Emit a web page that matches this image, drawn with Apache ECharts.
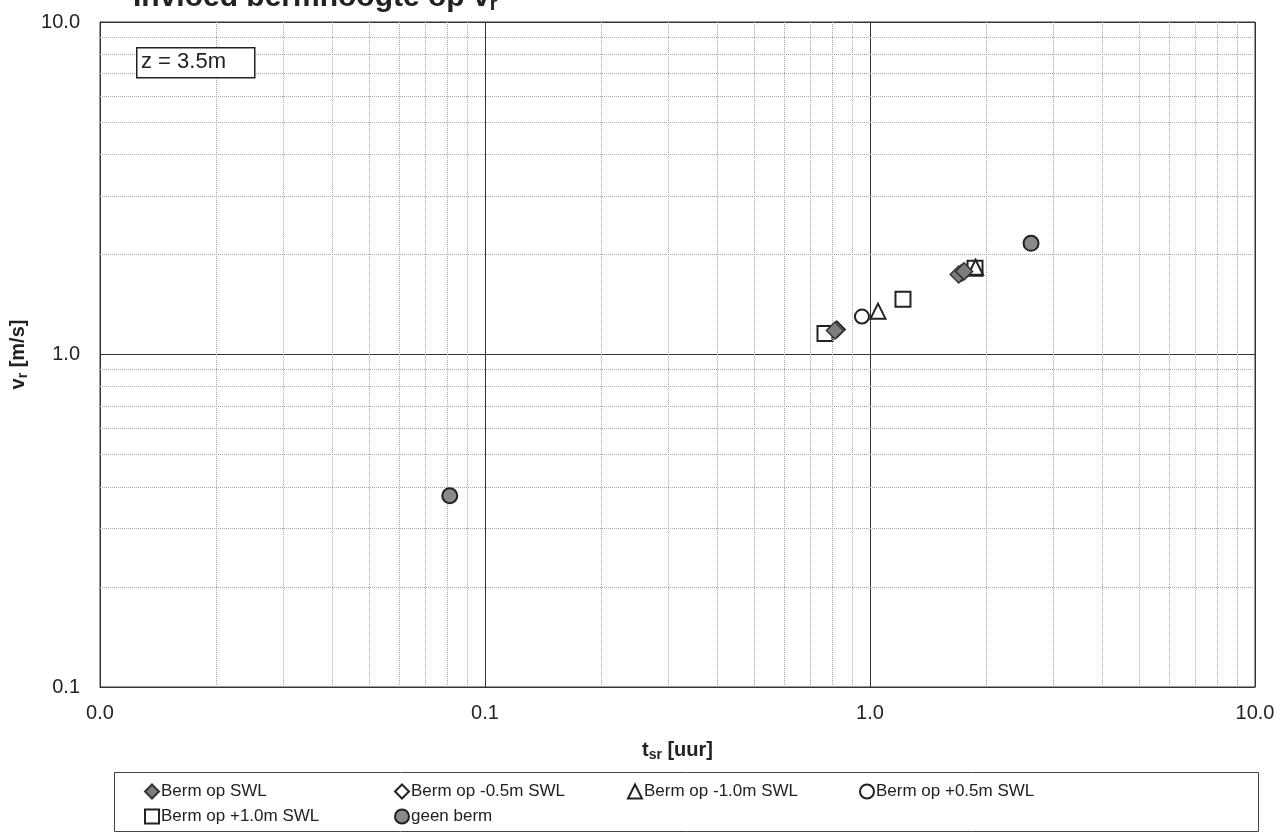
<!DOCTYPE html>
<html>
<head>
<meta charset="utf-8">
<script src="https://cdn.jsdelivr.net/npm/echarts@6/dist/echarts.min.js"></script>
<style>html,body{margin:0;padding:0;background:#fff;}#c{width:1282px;height:837px;}</style>
</head>
<body>
<div id="c"></div>
<script>
// ---- data ----
const seriesNames = ['Berm op SWL','Berm op -0.5m SWL','Berm op -1.0m SWL','Berm op +0.5m SWL','Berm op +1.0m SWL','geen berm'];
const bermSWL_t   = [0.811, 1.70, 1.755];
const bermSWL_v   = [1.181, 1.74, 1.778];
const bermM05_t   = [0.82, 1.73];
const bermM05_v   = [1.19, 1.76];
const bermM10_t   = [1.049, 1.88];
const bermM10_v   = [1.35, 1.83];
const bermP05_t   = [0.953];
const bermP05_v   = [1.30];
const bermP10_t   = [0.764, 1.218, 1.874];
const bermP10_v   = [1.157, 1.465, 1.816];
const geenBerm_t  = [0.081, 2.62];
const geenBerm_v  = [0.376, 2.16];
const xTicks = [0.01, 0.1, 1, 10];
const yTicks = [0.1, 1, 10];
const minorMult = [2,3,4,5,6,7,8,9];
const xDecades = [0.01, 0.1, 1];
const yDecades = [0.1, 1];

const pair = (a,b) => a.map((v,i)=>[v,b[i]]);
const minorX = [].concat(...xDecades.map(d => minorMult.map(m => +(d*m).toPrecision(3))));
const minorY = [].concat(...yDecades.map(d => minorMult.map(m => +(d*m).toPrecision(3))));

const FONT = '"Liberation Sans", Arial, sans-serif';
const chart = echarts.init(document.getElementById('c'));

const sc = (name, data, symbol, size, fill, border, bw, z) => ({
  name, type:'scatter', data, symbol, symbolSize:size, z,
  itemStyle:{color:fill, borderColor:border, borderWidth:bw, opacity:1}
});

// legend placement: [left, top] per series
const legendPos = [[144,783],[394,783],[627,783],[859,783],[144,808],[394,808]];
const legends = seriesNames.map((n,i)=>({
  data:[n], left:legendPos[i][0], top:legendPos[i][1], padding:0,
  itemWidth:14, itemHeight:14, selectedMode:false,
  textStyle:{fontSize:17, color:'#222', fontFamily:FONT, padding:[0,0,0,-3]}
}));

chart.setOption({
  animation:false,
  backgroundColor:'#fff',
  grid:{left:100, right:27, top:22, bottom:150, show:true, borderColor:'#333', borderWidth:1},
  xAxis:{
    type:'log', logBase:10, min:0.01, max:10,
    axisLine:{lineStyle:{color:'#333', width:1}},
    axisTick:{show:false},
    splitLine:{show:true, lineStyle:{color:'#333', width:1}},
    axisLabel:{margin:16, color:'#222', fontSize:20, fontFamily:FONT, formatter:v=>(+v).toFixed(1)},
    name:'{a|t}{s|sr}{a| [uur]}', nameLocation:'middle', nameGap:52,
    nameTextStyle:{rich:{
      a:{fontSize:20, fontWeight:'bold', color:'#222', fontFamily:FONT},
      s:{fontSize:14, fontWeight:'bold', color:'#222', fontFamily:FONT, padding:[9,0,0,0]}
    }}
  },
  yAxis:{
    type:'log', logBase:10, min:0.1, max:10,
    axisLine:{lineStyle:{color:'#333', width:1}},
    axisTick:{show:false},
    splitLine:{show:true, lineStyle:{color:'#333', width:1}},
    axisLabel:{margin:20, color:'#222', fontSize:20, fontFamily:FONT, formatter:v=>(+v).toFixed(1)},
    name:'{a|v}{s|r}{a| [m/s]}', nameLocation:'middle', nameGap:68,
    nameTextStyle:{rich:{
      a:{fontSize:20, fontWeight:'bold', color:'#222', fontFamily:FONT},
      s:{fontSize:14, fontWeight:'bold', color:'#222', fontFamily:FONT, padding:[9,0,0,0]}
    }}
  },
  legend:legends,
  graphic:[
    {type:'text', left:133, top:-17, z:10, style:{
      text:'{a|Invloed bermhoogte op v}{s|r}',
      rich:{a:{fontSize:30, fontWeight:'bold', fill:'#222', fontFamily:FONT},
            s:{fontSize:20, fontWeight:'bold', fill:'#222', fontFamily:FONT, padding:[12,0,0,0]}}
    }},
    {type:'rect', left:136, top:47, z:10, shape:{width:118, height:30},
      style:{fill:'#fff', stroke:'#222', lineWidth:1.5}},
    {type:'text', left:141, top:51, z:11, style:{text:'z = 3.5m', fontSize:22, fill:'#222', fontFamily:FONT}},
    {type:'rect', left:112, top:770, z:0, shape:{width:1144, height:59},
      style:{fill:'none', stroke:'#444', lineWidth:1}}
  ],
  series:[
    {type:'line', data:[], silent:true, z:1,
     markLine:{silent:true, symbol:'none', animation:false, label:{show:false},
       lineStyle:{type:'dotted', color:'#a8a8a8', width:1},
       data: minorX.map(v=>({xAxis:v})).concat(minorY.map(v=>({yAxis:v})))}},
    sc(seriesNames[1], pair(bermM05_t,bermM05_v), 'diamond', 16, '#fff', '#222', 2, 3),
    sc(seriesNames[4], pair(bermP10_t,bermP10_v), 'rect', 15, '#fff', '#222', 2, 4),
    sc(seriesNames[2], pair(bermM10_t,bermM10_v), 'triangle', 15, 'rgba(255,255,255,0)', '#222', 2, 5),
    sc(seriesNames[3], pair(bermP05_t,bermP05_v), 'circle', 14, '#fff', '#222', 2, 5),
    sc(seriesNames[0], pair(bermSWL_t,bermSWL_v), 'diamond', 17, '#7d7d7d', '#333', 1.5, 6),
    sc(seriesNames[5], pair(geenBerm_t,geenBerm_v), 'circle', 15, '#8a8a8a', '#222', 2, 6)
  ]
});
</script>
</body>
</html>
